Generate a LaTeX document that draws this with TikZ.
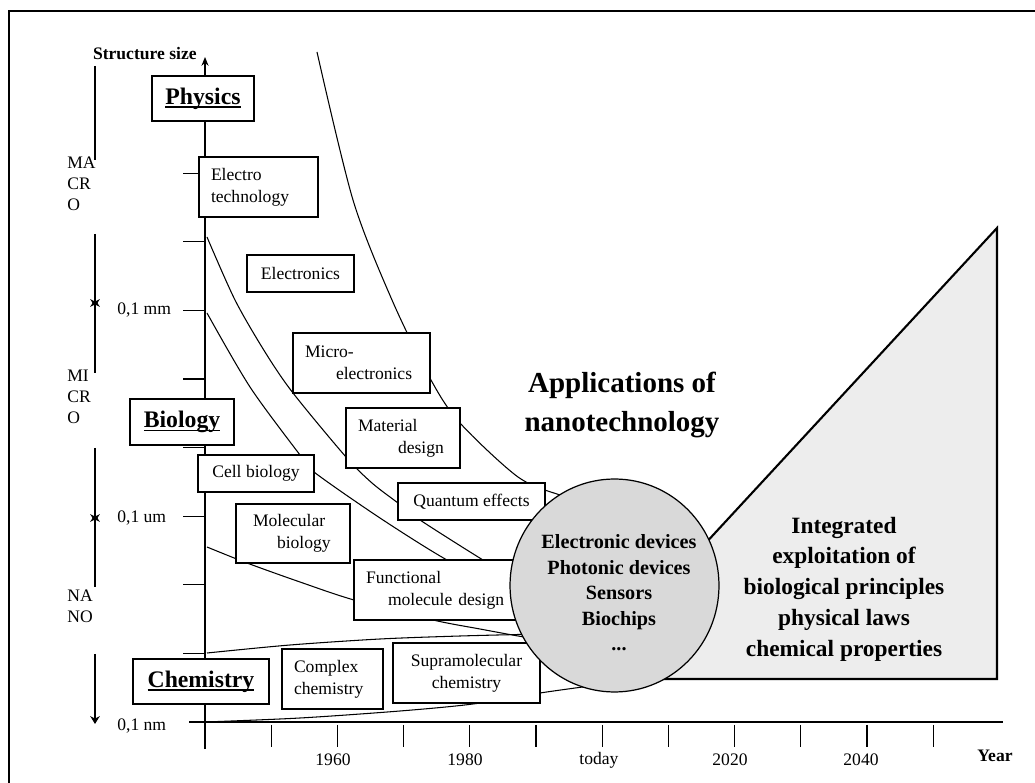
\documentclass[tikz,border=0pt]{standalone}
\usepackage{fontspec}
\setmainfont{Liberation Serif}
\usetikzlibrary{arrows.meta}

\newcommand\uword[1]{\setbox0\hbox{#1}\rlap{\rule[-2.2pt]{\wd0}{1.1pt}}\box0}

\tikzset{
  box/.style={draw, fill=white, line width=0.7pt, inner sep=0pt, align=center,
    font=\fontsize{10}{12.5}\selectfont},
  tbox/.style={box, align=left, inner xsep=0.24cm},
  field/.style={box, font=\fontsize{13.5}{16}\selectfont\bfseries},
  curve/.style={line width=0.6pt},
  lbl/.style={inner sep=0pt, font=\fontsize{10}{12}\selectfont},
  rangearrow/.style={line width=0.7pt, -{Stealth[length=4.5pt,width=5.5pt]}},
}

\begin{document}
\begin{tikzpicture}[x=0.02cm, y=-0.02cm, line join=miter]
  \useasboundingbox (0,0) rectangle (1035,783);
  \draw [line width=0.9pt] (9,783) -- (9,11) -- (1035,11);

  % integrated exploitation (future)
  \draw [line width=1.2pt, fill=black!7] (997,228) -- (580,679) -- (997,679) -- cycle;
  \node [font=\fontsize{13.3}{17.5}\selectfont\bfseries, align=center] (integrated) at (844,589)
    {Integrated\\exploitation of\\biological principles\\physical laws\\chemical properties};

  % development lines
  \draw [curve] plot [smooth] coordinates {(317,52) (353,200) (392,300) (431,380) (460,423) (518,477) (560,495) (590,502)};
  \draw [curve] plot [smooth] coordinates {(207,237) (235,300) (265,352) (293,393) (346,457) (372,483) (398,503) (420,520) (483,560) (515,578)};
  \draw [curve] plot [smooth] coordinates {(207,313) (250,387) (300,455) (314,472) (380,518) (447,560) (500,585)};
  \draw [curve] plot [smooth] coordinates {(207,547) (247,563) (300,582) (354,600) (433,620) (480,629) (524,637) (560,642)};
  \draw [curve] plot [smooth] coordinates {(207,653) (290,645) (380,639) (460,636) (540,634)};
  \draw [curve] plot [smooth] coordinates {(205,722) (300,718) (400,711) (473,704) (540,693) (590,686)};

  % axes
  \draw [line width=0.7pt, -{Stealth[length=5pt,width=4pt]}] (205,749) -- (205,57);
  \draw [line width=0.7pt] (189,722) -- (1003,722);
  \foreach \k in {1,...,9}
    \draw [line width=0.7pt] (183,{722-68.6*\k}) -- (205,{722-68.6*\k});
  \foreach \k in {1,...,11}
    \draw [line width=0.7pt] ({205+66.2*\k},725) -- ({205+66.2*\k},747);

  \node [lbl, font=\fontsize{10}{12}\selectfont\bfseries, anchor=east] (size) at (197,54) {Structure size};
  \node [lbl, font=\fontsize{10}{12}\selectfont\bfseries] (year) at (995,756) {Year};
  \foreach \yr/\x in {1960/333, 1980/465, today/599, 2020/730, 2040/861}
    \node [lbl] (year\yr) at (\x,760) {\yr};
  \node [lbl, anchor=west] (mm) at (117,310) {0,1 mm};
  \node [lbl, anchor=west] (um) at (117,518) {0,1 um};
  \node [lbl, anchor=west] (nm) at (117,726) {0,1 nm};

  % size ranges
  \node [lbl, anchor=west, align=left] (macro) at (67,184) {MA\\CR\\O};
  \node [lbl, anchor=west, align=left] (micro) at (67,397) {MI\\CR\\O};
  \node [lbl, anchor=west, align=left] (nano) at (67,606) {NA\\NO};
  \draw [line width=0.7pt] (95,66) -- (95,160);
  \draw [rangearrow] (95,234) -- (95,307);
  \draw [rangearrow] (95,373) -- (95,299);
  \draw [rangearrow] (95,448) -- (95,522);
  \draw [rangearrow] (95,587) -- (95,514);
  \draw [rangearrow] (95,654) -- (95,724);

  % fields
  \node [field, minimum width=2.04cm, minimum height=0.9cm] (physics) at (203,98.5) {\uword{Physics}};
  \node [field, minimum width=2.08cm, minimum height=0.92cm] (biology) at (182,422) {\uword{Biology}};
  \node [field, minimum width=2.72cm, minimum height=0.9cm] (chemistry) at (201,681.5) {\uword{Chemistry}};

  \node [tbox, text width=1.9cm, minimum height=1.2cm] (electro) at (258.5,187) {Electro\\technology};
  \node [box, minimum width=2.14cm, minimum height=0.74cm] (electronics) at (300.5,273.5) {Electronics};
  \node [tbox, text width=2.26cm, minimum height=1.2cm] (microel) at (361.5,363) {Micro-\\\hspace*{0.62cm}electronics};
  \node [tbox, text width=1.8cm, minimum height=1.2cm] (material) at (403,438) {Material\\\hspace*{0.8cm}design};
  \node [box, minimum width=2.94cm, minimum height=0.74cm] (quantum) at (471.5,501.5) {Quantum effects};
  \node [box, minimum width=2.32cm, minimum height=0.74cm] (cellbio) at (256,473.5) {Cell biology};
  \node [tbox, inner xsep=0.34cm, text width=1.6cm, minimum height=1.18cm] (molbio) at (293,533.5) {Molecular\\\hspace*{0.48cm}biology};
  \node [tbox, text width=2.94cm, minimum height=1.2cm] (functional) at (439.5,590) {Functional\\\hspace*{0.44cm}molecule design};
  \node [tbox, text width=1.54cm, minimum height=1.2cm] (complex) at (332.5,679) {Complex\\chemistry};
  \node [box, minimum width=2.94cm, minimum height=1.2cm] (supra) at (466.5,673) {Supramolecular\\chemistry};

  % applications
  \draw [line width=0.7pt, fill=black!15] (614.5,585.5) ellipse [x radius=2.09cm, y radius=2.13cm];
  \node [font=\fontsize{11.5}{14.5}\selectfont\bfseries, align=center] (devices) at (619,593)
    {Electronic devices\\Photonic devices\\Sensors\\Biochips\\...};
  \node [font=\fontsize{16.5}{22}\selectfont\bfseries, align=center] (apps) at (622,405)
    {Applications of\\nanotechnology};
\end{tikzpicture}
\end{document}
